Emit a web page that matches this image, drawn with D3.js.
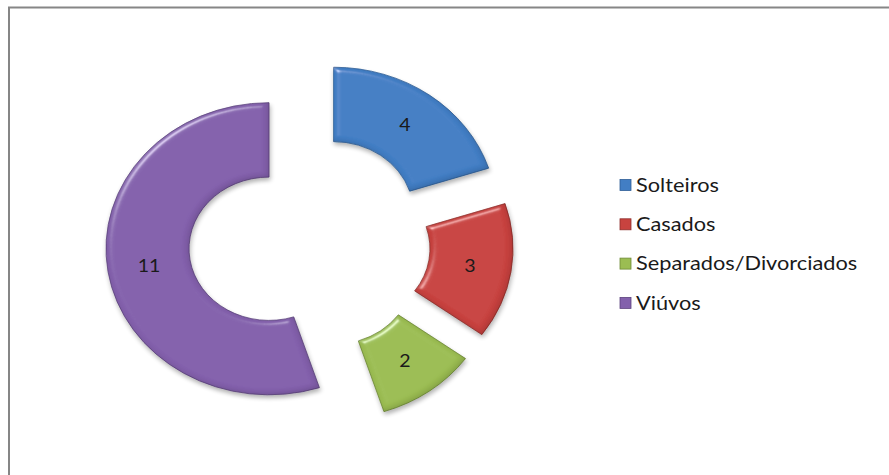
<!DOCTYPE html>
<html>
<head>
<meta charset="utf-8">
<script src="https://cdn.jsdelivr.net/npm/d3@7"></script>
<style>
  body { margin: 0; background: #fff; }
  svg { display: block; }
  text { font-family: Lato, "Open Sans", sans-serif; fill: #1a1a1a; }
</style>
</head>
<body>
<div id="chart"></div>
<script>
// chart data
var categories = ["Solteiros", "Casados", "Separados/Divorciados", "Viúvos"];
var values = [4, 3, 2, 11];
var colors = ["#427EC4", "#C8433F", "#9BBD52", "#8361AC"];
var edgeColors = ["#2F5E97", "#8E2E2B", "#6E8A36", "#5D437E"];

var width = 889, height = 475;
var svg = d3.select("#chart").append("svg")
    .attr("width", width)
    .attr("height", height);

// bevel-ish look: soft highlight + inner dark edge + drop shadow
var defs = svg.append("defs");
var f = defs.append("filter").attr("id", "bevel")
    .attr("x", "-10%").attr("y", "-10%").attr("width", "120%").attr("height", "125%");
f.append("feGaussianBlur").attr("in", "SourceAlpha").attr("stdDeviation", 3).attr("result", "blur");
f.append("feSpecularLighting").attr("in", "blur").attr("surfaceScale", 4)
    .attr("specularConstant", 0.45).attr("specularExponent", 40)
    .attr("lighting-color", "#ffffff").attr("result", "spec")
  .append("feDistantLight").attr("azimuth", 235).attr("elevation", 40);
f.append("feComposite").attr("in", "spec").attr("in2", "SourceAlpha").attr("operator", "in").attr("result", "specIn");
f.append("feComposite").attr("in", "SourceGraphic").attr("in2", "specIn")
    .attr("operator", "arithmetic").attr("k1", 0).attr("k2", 1).attr("k3", 1).attr("k4", 0).attr("result", "lit");
// inner dark edge
f.append("feOffset").attr("in", "blur").attr("dx", -2).attr("dy", -2).attr("result", "blurOff");
f.append("feComposite").attr("in", "SourceAlpha").attr("in2", "blurOff").attr("operator", "out").attr("result", "edge");
f.append("feFlood").attr("flood-color", "#000").attr("flood-opacity", 0.3).attr("result", "dark");
f.append("feComposite").attr("in", "dark").attr("in2", "edge").attr("operator", "in").attr("result", "darkEdge");
// drop shadow
f.append("feOffset").attr("in", "SourceAlpha").attr("dx", 1).attr("dy", 3).attr("result", "off");
f.append("feGaussianBlur").attr("in", "off").attr("stdDeviation", 2.5).attr("result", "shblur");
f.append("feComponentTransfer").attr("in", "shblur").attr("result", "shadow")
  .append("feFuncA").attr("type", "linear").attr("slope", 0.3);
var fm = f.append("feMerge");
fm.append("feMergeNode").attr("in", "shadow");
fm.append("feMergeNode").attr("in", "lit");
fm.append("feMergeNode").attr("in", "darkEdge");

// frame (cropped at right and bottom)
svg.append("path")
    .attr("d", "M9,475 V7.5 H889")
    .attr("fill", "none")
    .attr("stroke", "#868686")
    .attr("stroke-width", 2);

// doughnut geometry
var cx = 309.5, cy = 243, sy = 0.896, sx = 1.116;
var outerR = 163, innerR = 80, explode = 41;

var pie = d3.pie().sort(null).value(function(d) { return d; });
var arcs = pie(values);
var arc = d3.arc().innerRadius(innerR).outerRadius(outerR);

var chart = svg.append("g")
    .attr("transform", "translate(" + cx + "," + cy + ") scale(1," + sy + ")");

function offset(d) {
  var mid = (d.startAngle + d.endAngle) / 2;
  return [Math.sin(mid) * explode, -Math.cos(mid) * explode];
}

chart.selectAll("path.slice")
  .data(arcs)
  .enter().append("path")
    .attr("class", "slice")
    .attr("transform", function(d) { var o = offset(d); return "translate(" + o[0] + "," + o[1] + ")"; })
    .attr("d", arc)
    .attr("fill", function(d, i) { return colors[i]; })
    .attr("stroke", function(d, i) { return edgeColors[i]; })
    .attr("stroke-width", 0.8)
    .attr("filter", "url(#bevel)");

// data labels (kept outside the squashed group, stretched like the picture)
svg.selectAll("text.val")
  .data(arcs)
  .enter().append("text")
    .attr("class", "val")
    .attr("transform", function(d) {
      var o = offset(d), c = arc.centroid(d);
      return "translate(" + (cx + o[0] + c[0]) + "," + (cy + (o[1] + c[1]) * sy) + ") scale(" + sx + ",1)";
    })
    .attr("dy", "0.35em")
    .attr("text-anchor", "middle")
    .style("font-size", "17.5px")
    .text(function(d) { return d.data; });

// legend
var legend = svg.append("g").attr("transform", "translate(620,185)");
var item = legend.selectAll("g")
  .data(categories)
  .enter().append("g")
    .attr("transform", function(d, i) { return "translate(0," + (i * 39.3) + ")"; });
item.append("rect")
    .attr("x", 0).attr("y", -5.5)
    .attr("width", 11).attr("height", 11)
    .attr("fill", function(d, i) { return colors[i]; })
    .attr("stroke", function(d, i) { return edgeColors[i]; })
    .attr("stroke-width", 0.8);
item.append("text")
    .attr("transform", "translate(16,0) scale(" + sx + ",1)")
    .attr("dy", "0.35em")
    .style("font-size", "19.5px")
    .text(function(d) { return d; });
</script>
</body>
</html>
